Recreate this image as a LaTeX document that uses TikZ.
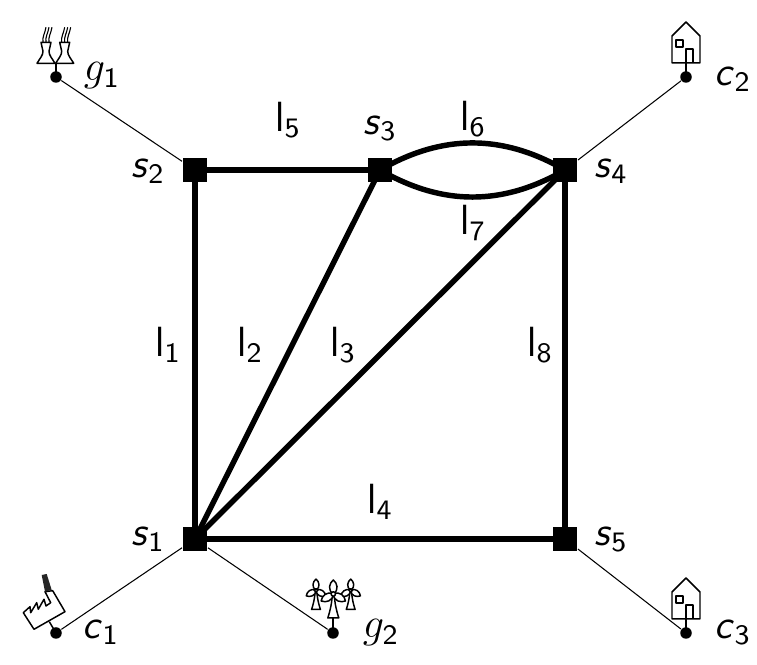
\documentclass[tikz,border=0pt]{standalone}

\newcommand{\slvar}[1]{\textsf{\textsl{#1}}}

\begin{document}
\begin{tikzpicture}[x=0.01cm, y=-0.01cm,
    bus/.style={
        fill=black,
        minimum size=0.245cm,
        inner sep=0pt
    },
    term/.style={
        circle,
        fill=black,
        minimum size=0.115cm,
        inner sep=0pt
    },
    busline/.style={
        line width=1.55pt
    },
    feeder/.style={
        line width=0.3pt
    },
    lbl/.style={
        font=\fontsize{11.5}{14}\selectfont,
        inner sep=0pt
    },
    icon/.style={
        line width=0.42pt,
        line join=round
    },
    house/.pic={
        \draw[icon] (-14,-41) -- (0,-55) -- (14,-41) -- (14,-14) -- (-14,-14) -- cycle;
        \draw[icon] (-10,-37) rectangle (-3,-30);
        \draw[icon] (0,0) -- (0,-28) -- (7,-28) -- (7,-14);
    },
    tower/.pic={
        \draw[icon, fill=white] (-9,0) .. controls (-6,-5) and (-3,-8) .. (-3,-12)
            .. controls (-3,-15) and (-5,-18) .. (-5,-21) -- (5,-21)
            .. controls (5,-18) and (3,-15) .. (3,-12)
            .. controls (3,-8) and (6,-5) .. (9,0) -- cycle;
        \foreach \xs in {-3,0,3}{
            \draw[line width=0.32pt] (\xs,-21) .. controls (\xs-1,-26) and (\xs+2,-30) .. (\xs+3,-36);
        }
    },
    turbine/.pic={
        \draw[icon, fill=white] (-5.5,0) .. controls (-3,-8) and (-1.5,-14) .. (-1,-24) -- (1,-24)
            .. controls (1.5,-14) and (3,-8) .. (5.5,0) -- cycle;
        \foreach \ang in {0,120,240}{
            \draw[icon, fill=white, shift={(0,-24)}, rotate=\ang] (0,0) .. controls (-6,-4) and (-4,-11) .. (0,-14)
                .. controls (4,-11) and (6,-4) .. (0,0) -- cycle;
        }
        \draw[icon, fill=white] (0,-24) circle (2.2);
    }
]

\useasboundingbox (0,0) rectangle (757,665);

% --- Buses ---
\node[bus] (s1) at (195,539) {};
\node[bus] (s2) at (195,170) {};
\node[bus] (s3) at (380,170) {};
\node[bus] (s4) at (565,170) {};
\node[bus] (s5) at (565,539) {};

% --- Terminals ---
\node[term] (g1) at (56,77) {};
\node[term] (c2) at (686,77) {};
\node[term] (c1) at (56,633) {};
\node[term] (g2) at (333,633) {};
\node[term] (c3) at (686,633) {};

% --- Lines ---
\draw[busline] (s1.center) -- (s2.center);
\draw[busline] (s1.center) -- (s3.center);
\draw[busline] (s1.center) -- (s4.center);
\draw[busline] (s1.center) -- (s5.center);
\draw[busline] (s2.center) -- (s3.center);
\draw[busline] (s3.center) to[bend left=30] (s4.center);
\draw[busline] (s3.center) to[bend right=30] (s4.center);
\draw[busline] (s5.center) -- (s4.center);

% --- Feeders ---
\draw[feeder] (g1) -- (s2);
\draw[feeder] (c2) -- (s4);
\draw[feeder] (c1) -- (s1);
\draw[feeder] (g2) -- (s1);
\draw[feeder] (c3) -- (s5);

% --- Houses ---
\pic at (686,77) {house};
\pic at (686,633) {house};

% --- Power plant ---
\draw[icon] (56,77) -- (56,63);
\pic at (46,63.3) {tower};
\pic at (64.7,63.3) {tower};

% --- Wind farm ---
\draw[icon] (333,633) -- (333,618);
\pic[scale=0.8] at (316,609.5) {turbine};
\pic[scale=0.8] at (350.7,609.5) {turbine};
\pic at (333.3,618) {turbine};

% --- Factory ---
\begin{scope}[shift={(56,633)}]
    \draw[icon] (0,0) -- (-6.7,-11.3);
    \draw[icon] (-3.3,-42.3) -- (9,-21.3) -- (-22,-3.7) -- (-32.7,-20.3)
        -- (-26,-26.3) -- (-25.3,-20.3) -- (-19.3,-30.3) -- (-17.7,-23.7)
        -- (-12,-33.7) -- (-10,-27) -- (-5.3,-30.3) -- (-11,-41.3) -- cycle;
    \fill[black!85] (-11,-41.3) -- (-4.3,-43) -- (-9.3,-59) -- (-14.3,-58) -- cycle;
\end{scope}

% --- Line labels ---
\node[lbl] (l1) at (168,345) {$\mathsf{l}_{\mathsf{1}}$};
\node[lbl] (l2) at (250,345) {$\mathsf{l}_{\mathsf{2}}$};
\node[lbl] (l3) at (343,345) {$\mathsf{l}_{\mathsf{3}}$};
\node[lbl] (l4) at (380,502) {$\mathsf{l}_{\mathsf{4}}$};
\node[lbl] (l5) at (288,120) {$\mathsf{l}_{\mathsf{5}}$};
\node[lbl] (l6) at (473,119) {$\mathsf{l}_{\mathsf{6}}$};
\node[lbl] (l7) at (473,223) {$\mathsf{l}_{\mathsf{7}}$};
\node[lbl] (l8) at (540,345) {$\mathsf{l}_{\mathsf{8}}$};

% --- Bus labels ---
\node[lbl] (ls1) at (148,539) {$\slvar{s}_{\mathsf{1}}$};
\node[lbl] (ls2) at (148,171) {$\slvar{s}_{\mathsf{2}}$};
\node[lbl] (ls3) at (380,128) {$\slvar{s}_{\mathsf{3}}$};
\node[lbl] (ls4) at (611,171) {$\slvar{s}_{\mathsf{4}}$};
\node[lbl] (ls5) at (611,539) {$\slvar{s}_{\mathsf{5}}$};

% --- Terminal labels ---
\node[lbl] (lg1) at (102,76) {$g_{\mathsf{1}}$};
\node[lbl] (lg2) at (381,633) {$g_{\mathsf{2}}$};
\node[lbl] (lc1) at (101,632) {$\slvar{c}_{\mathsf{1}}$};
\node[lbl] (lc2) at (733,79) {$\slvar{c}_{\mathsf{2}}$};
\node[lbl] (lc3) at (733,632) {$\slvar{c}_{\mathsf{3}}$};

\end{tikzpicture}
\end{document}
